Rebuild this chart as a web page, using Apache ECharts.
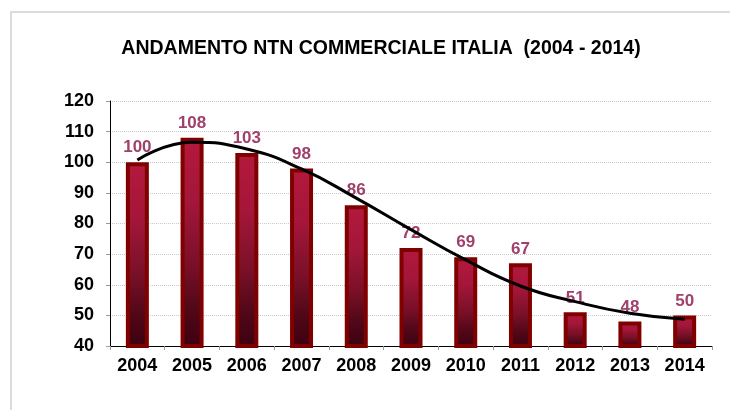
<!DOCTYPE html>
<html>
<head>
<meta charset="utf-8">
<script src="https://cdn.jsdelivr.net/npm/echarts@6/dist/echarts.min.js"></script>
<style>
  html, body { margin: 0; padding: 0; background: #fff; }
  #frame {
    position: absolute; left: 10px; top: 11px; width: 730px; height: 410px;
    border-left: 2px solid #dcdcdc; border-top: 2px solid #dcdcdc;
  }
  #chart { position: absolute; left: 0; top: 0; width: 730px; height: 410px; }
</style>
</head>
<body>
<div id="frame"></div>
<div id="chart"></div>
<script>
const years = ['2004', '2005', '2006', '2007', '2008', '2009', '2010', '2011', '2012', '2013', '2014'];
const values = [100, 108, 103, 98, 86, 72, 69, 67, 51, 48, 50];
// trend line at each year
const trend = [100.7, 106.5, 104.3, 97.8, 88.3, 78.0, 68.1, 59.6, 54.5, 50.7, 48.7];

const chart = echarts.init(document.getElementById('chart'));

const barFill = new echarts.graphic.LinearGradient(0, 0, 0, 1, [
  { offset: 0, color: '#b3193c' },
  { offset: 0.3, color: '#a4163a' },
  { offset: 0.6, color: '#7a1028' },
  { offset: 0.8, color: '#540818' },
  { offset: 1, color: '#3c0010' }
]);

const option = {
  animation: false,
  title: {
    text: 'ANDAMENTO NTN COMMERCIALE ITALIA  (2004 - 2014)',
    left: 376,
    textAlign: 'center',
    top: 34,
    textStyle: {
      fontFamily: 'Liberation Sans',
      fontWeight: 'bold',
      fontSize: 19.5,
      color: '#000'
    }
  },
  grid: {
    left: 110,
    right: 18,
    top: 101,
    bottom: 64,
    containLabel: false
  },
  xAxis: {
    type: 'category',
    data: years,
    axisLine: { lineStyle: { color: '#000', width: 1 } },
    axisTick: { show: true, length: 4, lineStyle: { color: '#999' } },
    axisLabel: {
      color: '#000',
      fontFamily: 'Liberation Sans',
      fontWeight: 'bold',
      fontSize: 18,
      margin: 11
    }
  },
  yAxis: {
    type: 'value',
    min: 40,
    max: 120,
    interval: 10,
    axisLine: { show: true, lineStyle: { color: '#000', width: 1 } },
    axisTick: { show: true, length: 4, lineStyle: { color: '#999' } },
    splitLine: { lineStyle: { color: '#c8c8c8', type: 'dotted' } },
    axisLabel: {
      color: '#000',
      fontFamily: 'Liberation Sans',
      fontWeight: 'bold',
      fontSize: 18,
      margin: 16
    }
  },
  series: [
    {
      type: 'bar',
      data: values,
      barWidth: 23,
      itemStyle: {
        color: barFill,
        borderColor: '#800000',
        borderWidth: 4
      },
      label: {
        show: true,
        position: 'top',
        distance: 6,
        color: '#a0406c',
        fontFamily: 'Liberation Sans',
        fontWeight: 'bold',
        fontSize: 17
      },
      z: 2
    },
    {
      type: 'line',
      data: trend,
      smooth: 0.5,
      symbol: 'none',
      lineStyle: { color: '#000', width: 3 },
      z: 3
    }
  ]
};

chart.setOption(option);
</script>
</body>
</html>
